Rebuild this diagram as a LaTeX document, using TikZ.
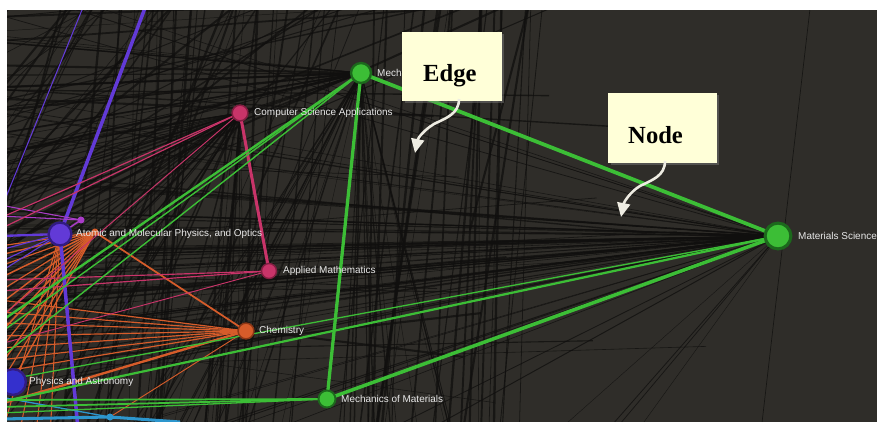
\documentclass[tikz,border=0pt]{standalone}
\usepackage{fontspec}
\setmainfont{Liberation Serif}
\newfontfamily\lblfont{Liberation Sans}
\usetikzlibrary{shadows,arrows.meta}
\definecolor{bgc}{RGB}{47,45,41}
\definecolor{blk}{RGB}{16,15,14}
\definecolor{grn}{RGB}{60,190,54}
\definecolor{grnrim}{RGB}{28,105,28}
\definecolor{pnk}{RGB}{200,52,105}
\definecolor{pnkrim}{RGB}{130,30,65}
\definecolor{org}{RGB}{214,92,42}
\definecolor{orgrim}{RGB}{140,55,22}
\definecolor{prp}{RGB}{98,58,215}
\definecolor{prprim}{RGB}{50,28,130}
\definecolor{mag}{RGB}{170,60,200}
\definecolor{blu}{RGB}{52,48,205}
\definecolor{cyn}{RGB}{45,150,205}
\definecolor{callbg}{RGB}{255,255,216}
\definecolor{arr}{RGB}{238,236,226}
\definecolor{lbl}{RGB}{232,232,232}
\tikzset{
  bgline/.style={draw=blk, opacity=0.75},
  gline/.style={draw=grn},
  pline/.style={draw=pnk},
  oline/.style={draw=org},
  vline/.style={draw=prp},
  netnode/.style={circle, inner sep=0pt, outer sep=0pt},
  lbltext/.style={text=lbl, font=\lblfont\fontsize{8.5}{10}\selectfont, anchor=west, inner sep=0pt},
  callbox/.style={fill=callbg, draw=none, inner sep=0pt,
     drop shadow={shadow xshift=2pt, shadow yshift=-2pt, opacity=0.45}},
  calltext/.style={font=\bfseries\fontsize{21}{24}\selectfont, text=black, anchor=base west, inner sep=0pt},
  callarrow/.style={draw=arr, line width=2.2pt, -{Triangle[length=12pt,width=11pt]}}
}
\begin{document}
\begin{tikzpicture}[x=0.03cm, y=-0.03cm]
\useasboundingbox (0,0) rectangle (878,421);
\fill[white] (0,0) rectangle (878,421);
\begin{scope}
\clip (7,10) rectangle (877,430);
\fill[bgc] (7,10) rectangle (877,430);
% node centres
\coordinate (pMS) at (778,236);
\coordinate (pMech) at (361,73);
\coordinate (pMM) at (327,399);
\coordinate (pCSA) at (240,113);
\coordinate (pAM) at (269,271);
\coordinate (pCh) at (246,331);
\coordinate (pAt) at (60,234);
\coordinate (pPh) at (13,382);
\coordinate (pMg) at (81,220);
\coordinate (pOr) at (95,232);
\coordinate (pCy) at (110,417);
\pgfmathsetseed{4242}
% ---------- dark background mesh ----------
% Materials Science fan (dense wedge)
\foreach \i in {1,...,48}{
  \pgfmathsetmacro{\yy}{160+(rnd+rnd)*135}
  \pgfmathsetmacro{\lw}{0.3+rnd*0.9}
  \coordinate (mfa\i) at (0,\yy);
  \draw[bgline, line width=\lw pt] (pMS) -- (mfa\i);
}
\foreach \i in {1,...,10}{
  \pgfmathsetmacro{\yy}{-80+rnd*230}
  \pgfmathsetmacro{\lw}{0.3+rnd*0.6}
  \coordinate (mfb\i) at (0,\yy);
  \draw[bgline, line width=\lw pt] (pMS) -- (mfb\i);
}
\foreach \i in {1,...,12}{
  \pgfmathsetmacro{\xx}{60+rnd*580}
  \pgfmathsetmacro{\lw}{0.3+rnd*0.6}
  \coordinate (mfc\i) at (\xx,440);
  \draw[bgline, line width=\lw pt] (pMS) -- (mfc\i);
}
% Mechanical fan
\foreach \i in {1,...,22}{
  \pgfmathsetmacro{\yy}{30+rnd*190}
  \pgfmathsetmacro{\lw}{0.4+rnd*1.4}
  \coordinate (mea\i) at (0,\yy);
  \draw[bgline, line width=\lw pt] (pMech) -- (mea\i);
}
\foreach \i in {1,...,26}{
  \pgfmathsetmacro{\xx}{110+rnd*370}
  \pgfmathsetmacro{\lw}{0.3+rnd*1.0}
  \coordinate (meb\i) at (\xx,440);
  \draw[bgline, line width=\lw pt] (pMech) -- (meb\i);
}
% Computer Science Applications fan
\foreach \i in {1,...,22}{
  \pgfmathsetmacro{\xx}{-150+rnd*400}
  \pgfmathsetmacro{\lw}{0.3+rnd*1.0}
  \coordinate (csa\i) at (\xx,440);
  \draw[bgline, line width=\lw pt] (pCSA) -- (csa\i);
}
\foreach \i in {1,...,22}{
  \pgfmathsetmacro{\yy}{140+rnd*200}
  \pgfmathsetmacro{\lw}{0.4+rnd*1.2}
  \coordinate (csb\i) at (0,\yy);
  \draw[bgline, line width=\lw pt] (pCSA) -- (csb\i);
}
% near-vertical lines
\foreach \i in {1,...,48}{
  \pgfmathsetmacro{\xt}{100+rnd*445}
  \pgfmathsetmacro{\dd}{rnd*75}
  \pgfmathsetmacro{\xb}{\xt-\dd}
  \pgfmathsetmacro{\lw}{0.4+rnd*1.8}
  \coordinate (vta\i) at (\xt,0);
  \coordinate (vtb\i) at (\xb,440);
  \draw[bgline, line width=\lw pt] (vta\i) -- (vtb\i);
}
% top-left criss-cross
\foreach \i in {1,...,24}{
  \pgfmathsetmacro{\yy}{10+rnd*260}
  \pgfmathsetmacro{\xx}{60+rnd*520}
  \pgfmathsetmacro{\lw}{0.4+rnd*1.4}
  \coordinate (tla\i) at (0,\yy);
  \coordinate (tlb\i) at (\xx,0);
  \draw[bgline, line width=\lw pt] (tla\i) -- (tlb\i);
}
\foreach \i in {1,...,18}{
  \pgfmathsetmacro{\xt}{7+rnd*380}
  \pgfmathsetmacro{\xb}{\xt-120-rnd*260}
  \pgfmathsetmacro{\lw}{0.4+rnd*1.6}
  \coordinate (sla\i) at (\xt,0);
  \coordinate (slb\i) at (\xb,440);
  \draw[bgline, line width=\lw pt] (sla\i) -- (slb\i);
}
% long shallow lines
\foreach \i in {1,...,16}{
  \pgfmathsetmacro{\ya}{60+rnd*320}
  \pgfmathsetmacro{\yb}{\ya+(rnd-0.5)*140}
  \pgfmathsetmacro{\xe}{420+rnd*300}
  \pgfmathsetmacro{\lw}{0.4+rnd*1.6}
  \coordinate (hla\i) at (0,\ya);
  \coordinate (hlb\i) at (\xe,\yb);
  \draw[bgline, line width=\lw pt] (hla\i) -- (hlb\i);
}
\coordinate (rv1) at (811,0);
\coordinate (rv2) at (760,440);
\draw[bgline, line width=0.6pt] (rv1) -- (rv2);
\coordinate (tv1) at (530,0);
\coordinate (tv2) at (470,230);
\draw[bgline, line width=1.8pt] (tv1) -- (tv2);
% ---------- coloured edges ----------
% orange fan from Atomic region
\foreach \y/\w in {246/1, 255/1.2, 266/1, 278/1.3, 291/1, 304/1.2, 318/1, 333/1.3, 349/1, 366/1.2, 384/1, 404/1.2}{
  \coordinate (of\y) at (0,\y);
  \draw[oline, line width=\w pt] (pOr) -- (of\y);
}
\foreach \x in {0,18,35,50}{
  \coordinate (ob\x) at (\x,440);
  \draw[oline, line width=0.9pt] (pAt) -- (ob\x);
}
% Chemistry
\draw[oline, line width=1.5pt] (pCh) -- (pOr);
\foreach \y in {300,312,323,336,348,360,372}{
  \coordinate (cf\y) at (0,\y);
  \draw[oline, line width=1pt] (pCh) -- (cf\y);
}
\coordinate (cfT) at (0,404);
\draw[oline, line width=2pt] (pCh) -- (cfT);
\draw[oline, line width=0.8pt] (pCh) -- (pCy);
% purple
\coordinate (pvTop) at (148,0);
\coordinate (pvBot) at (79,440);
\draw[vline, line width=3pt] (pvTop) -- (pAt) -- (pvBot);
\coordinate (pvA) at (86,0);
\coordinate (pvB) at (0,212);
\draw[vline, line width=0.9pt] (pvA) -- (pvB);
\foreach \y/\w in {236/2, 250/1, 262/1, 272/0.9}{
  \coordinate (vf\y) at (0,\y);
  \draw[vline, line width=\w pt] (pAt) -- (vf\y);
}
\coordinate (mgA) at (0,205);
\coordinate (mgB) at (0,216);
\draw[draw=mag, line width=0.9pt] (pMg) -- (mgA);
\draw[draw=mag, line width=0.9pt] (pMg) -- (mgB);
\draw[draw=mag, line width=1.2pt] (pMg) -- (pAt);
% pink
\foreach \y/\w in {218/1, 229/1, 318/0.8}{
  \coordinate (kf\y) at (0,\y);
  \draw[pline, line width=\w pt] (pCSA) -- (kf\y);
}
\foreach \y/\w in {280/1, 291/1, 344/0.8}{
  \coordinate (af\y) at (0,\y);
  \draw[pline, line width=\w pt] (pAM) -- (af\y);
}
\draw[pline, line width=2.6pt] (pCSA) -- (pAM);
% cyan / blue
\coordinate (cyA) at (0,397);
\coordinate (cyB) at (0,419);
\coordinate (cyC) at (180,422);
\draw[draw=cyn, line width=1.1pt] (cyA) -- (pCy);
\draw[draw=cyn, line width=2.6pt] (cyB) -- (pCy) -- (cyC);
% green
\foreach \y/\w in {322/2, 333/1.2, 358/1.2}{
  \coordinate (gm\y) at (0,\y);
  \draw[gline, line width=\w pt] (pMech) -- (gm\y);
}
\coordinate (gs1) at (0,381);
\coordinate (gs2) at (0,402);
\draw[gline, line width=1.1pt] (pMS) -- (gs1);
\draw[gline, line width=1.9pt] (pMS) -- (gs2);
\foreach \y/\w in {400/1.5, 407/1.5, 413/1.1}{
  \coordinate (gq\y) at (0,\y);
  \draw[gline, line width=\w pt] (pMM) -- (gq\y);
}
\draw[gline, line width=3.2pt] (pMech) -- (pMS);
\draw[gline, line width=2.8pt] (pMech) -- (pMM);
\draw[gline, line width=3pt] (pMS) -- (pMM);
% ---------- nodes ----------
\node[netnode, fill=grn, draw=grnrim, line width=2.6pt, minimum size=22pt] (ms) at (pMS) {};
\node[netnode, fill=grn, draw=grnrim, line width=2pt, minimum size=17pt] (mech) at (pMech) {};
\node[netnode, fill=grn, draw=grnrim, line width=1.6pt, minimum size=14.5pt] (mm) at (pMM) {};
\node[netnode, fill=pnk, draw=pnkrim, line width=1.3pt, minimum size=13.5pt] (csa) at (pCSA) {};
\node[netnode, fill=pnk, draw=pnkrim, line width=1.2pt, minimum size=12.8pt] (am) at (pAM) {};
\node[netnode, fill=org, draw=orgrim, line width=1.3pt, minimum size=13.5pt] (ch) at (pCh) {};
\node[netnode, fill=prp, draw=prprim, line width=2pt, minimum size=19.5pt] (at) at (pAt) {};
\node[netnode, fill=blu, draw=prprim, line width=2pt, minimum size=22pt] (ph) at (pPh) {};
\node[netnode, fill=mag, minimum size=6pt] (mg) at (pMg) {};
\node[netnode, fill=org, minimum size=6pt] (or) at (pOr) {};
\node[netnode, fill=cyn, minimum size=6pt] (cy) at (pCy) {};
% ---------- labels ----------
\node[lbltext] (lms) at (798,236) {Materials Science};
\node[lbltext] (lmech) at (377,73) {Mech};
\node[lbltext] (lmm) at (341,399) {Mechanics of Materials};
\node[lbltext] (lcsa) at (254,113) {Computer Science Applications};
\node[lbltext] (lam) at (283,271) {Applied Mathematics};
\node[lbltext] (lch) at (259,331) {Chemistry};
\node[lbltext] (lat) at (76,234) {Atomic and Molecular Physics, and Optics};
\node[lbltext] (lph) at (29,382) {Physics and Astronomy};
\end{scope}
% ---------- call-outs ----------
\node[callbox, minimum width=85pt, minimum height=58.7pt] (edgebox) at (452,66.5) {};
\node[calltext] (edgetext) at (423,81) {Edge};
\node[callbox, minimum width=92.7pt, minimum height=59.5pt] (nodebox) at (662.5,128) {};
\node[calltext] (nodetext) at (628,143) {Node};
\coordinate (eaS) at (459,99);
\coordinate (eaE) at (415,153);
\draw[callarrow] (eaS) .. controls (459,114) and (446,118) .. (434,124) .. controls (424,130) and (418,138) .. (eaE);
\coordinate (naS) at (665,161);
\coordinate (naE) at (621,217);
\draw[callarrow] (naS) .. controls (665,176) and (652,180) .. (640,186) .. controls (630,192) and (624,202) .. (naE);
\end{tikzpicture}
\end{document}
